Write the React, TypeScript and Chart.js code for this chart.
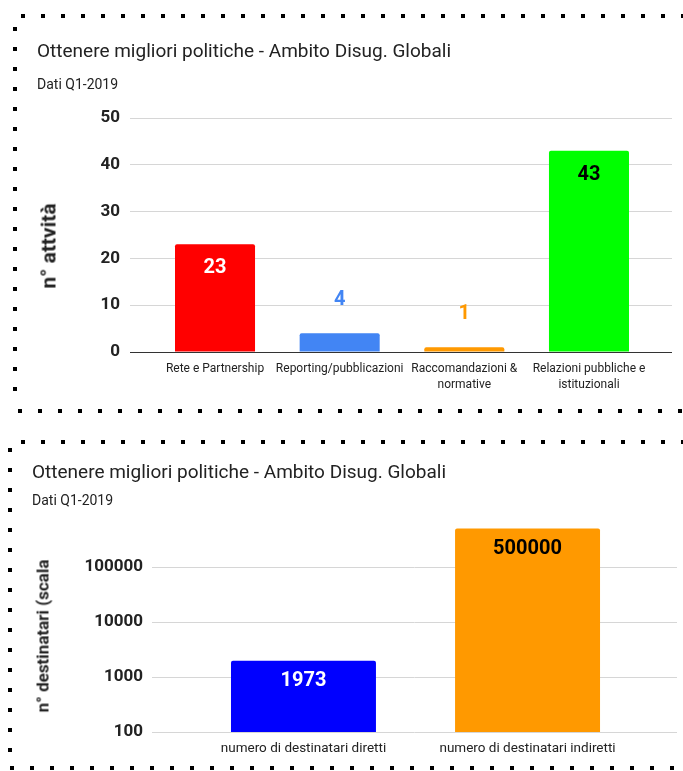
import { useEffect, useRef } from 'react';
import { Chart, registerables } from 'chart.js';

Chart.register(...registerables);

const FONT = 'Roboto, "Noto Sans", sans-serif';
const TEXT = '#222222';

const chartTitle = 'Ottenere migliori politiche - Ambito Disug. Globali';
const periodLabel = 'Dati Q1-2019';

// Activities by type
const activityCategories: string[][] = [
  ['Rete e Partnership'],
  ['Reporting/pubblicazioni'],
  ['Raccomandazioni &', 'normative'],
  ['Relazioni pubbliche e', 'istituzionali'],
];
const activityCounts = [23, 4, 1, 43];
const activityTicks = [0, 10, 20, 30, 40, 50];
const activityAxisTitle = 'n° attvità';

// Beneficiaries reached (logarithmic axis)
const reachCategories: string[][] = [
  ['numero di destinatari diretti'],
  ['numero di destinatari indiretti'],
];
const reachCounts = [1973, 500000];
const reachTicks = [100, 1000, 10000, 100000];
const reachAxisTitle = 'n° destinatari (scala';

type LabelOpts = {
  colors: string[];
  inside: boolean[];
  insideOffset: number;
  outsideOffset: number;
};

// Writes each bar's value inside its top or just above it
const barValueLabels = {
  id: 'barValueLabels',
  afterDatasetsDraw(chart: any, _args: any, opts: LabelOpts) {
    const ctx = chart.ctx;
    const meta = chart.getDatasetMeta(0);
    const data = chart.data.datasets[0].data;
    ctx.save();
    ctx.font = `bold 20px ${FONT}`;
    ctx.textAlign = 'center';
    ctx.textBaseline = 'middle';
    meta.data.forEach((bar: any, i: number) => {
      const { x, y } = bar.getProps(['x', 'y'], true);
      ctx.fillStyle = opts.colors[i];
      const ty = opts.inside[i] ? y + opts.insideOffset : y - opts.outsideOffset;
      ctx.fillText(String(data[i].y), x, ty);
    });
    ctx.restore();
  },
};

function headerPlugins(titleTop: number, subTop: number, subBottom: number) {
  return {
    legend: { display: false },
    tooltip: { enabled: false },
    title: {
      display: true,
      text: chartTitle,
      align: 'start',
      color: TEXT,
      font: { family: FONT, size: 19, weight: 'normal' },
      padding: { top: titleTop, bottom: 0 },
    },
    subtitle: {
      display: true,
      text: periodLabel,
      align: 'start',
      color: TEXT,
      font: { family: FONT, size: 14, weight: 'normal' },
      padding: { top: subTop, bottom: subBottom },
    },
  };
}

function activityConfig(): any {
  return {
    type: 'bar',
    data: {
      datasets: [
        {
          data: activityCounts.map((y, x) => ({ x, y })),
          backgroundColor: ['#ff0000', '#4285f4', '#ff9900', '#00ff00'],
          borderRadius: 2,
          barPercentage: 0.642,
          categoryPercentage: 1,
        },
      ],
    },
    options: {
      responsive: false,
      animation: false,
      events: [],
      layout: { padding: { left: 7, right: 11, top: 0, bottom: 0 } },
      plugins: {
        ...headerPlugins(21, 13, 24.4),
        barValueLabels: {
          colors: ['#ffffff', '#4285f4', '#ff9900', '#000000'],
          inside: [true, false, false, true],
          insideOffset: 24,
          outsideOffset: 33,
        },
      },
      scales: {
        x: {
          type: 'linear',
          min: -0.682,
          max: 3.666,
          bounds: 'data',
          offset: false,
          grid: { display: false, offset: false },
          border: { display: false },
          afterBuildTicks: (axis: any) => {
            axis.ticks = activityCategories.map((_, i) => ({ value: i }));
          },
          afterFit: (axis: any) => {
            axis.height = 48;
          },
          ticks: {
            autoSkip: false,
            maxRotation: 0,
            minRotation: 0,
            padding: 1,
            color: TEXT,
            font: { family: FONT, size: 12, lineHeight: 16 / 12 },
            callback: (v: number) => activityCategories[Math.round(v)] ?? '',
          },
        },
        y: {
          min: 0,
          max: 50,
          afterBuildTicks: (axis: any) => {
            axis.ticks = activityTicks.map((value) => ({ value }));
          },
          afterFit: (axis: any) => {
            axis.width = 93;
          },
          border: { display: false },
          grid: {
            drawTicks: false,
            color: (c: any) => (c.tick && c.tick.value === 0 ? '#333333' : '#d6d6d6'),
          },
          ticks: {
            padding: 10,
            color: TEXT,
            font: { family: FONT, size: 17, weight: 'bold' },
          },
        },
      },
    },
    plugins: [barValueLabels],
  };
}

function reachConfig(): any {
  return {
    type: 'bar',
    data: {
      datasets: [
        {
          data: reachCounts.map((y, x) => ({ x, y })),
          backgroundColor: ['#0000ff', '#ff9900'],
          borderRadius: 2,
          barPercentage: 0.647,
          categoryPercentage: 1,
        },
      ],
    },
    options: {
      responsive: false,
      animation: false,
      events: [],
      layout: { padding: { left: 7, right: 6, top: 0, bottom: 0 } },
      plugins: {
        ...headerPlugins(17, 8, 2.4),
        barValueLabels: {
          colors: ['#ffffff', '#000000'],
          inside: [true, true],
          insideOffset: 20,
          outsideOffset: 0,
        },
      },
      scales: {
        x: {
          type: 'linear',
          min: -0.676,
          max: 1.667,
          bounds: 'data',
          offset: false,
          grid: { display: false, offset: false },
          border: { display: false },
          afterBuildTicks: (axis: any) => {
            axis.ticks = reachCategories.map((_, i) => ({ value: i }));
          },
          afterFit: (axis: any) => {
            axis.height = 30;
          },
          ticks: {
            autoSkip: false,
            maxRotation: 0,
            minRotation: 0,
            padding: 1,
            color: TEXT,
            font: { family: FONT, size: 13.5, lineHeight: 16 / 13.5 },
            callback: (v: number) => reachCategories[Math.round(v)] ?? '',
          },
        },
        y: {
          type: 'logarithmic',
          min: 100,
          max: 1000000,
          afterBuildTicks: (axis: any) => {
            axis.ticks = reachTicks.map((value) => ({ value }));
          },
          afterFit: (axis: any) => {
            axis.width = 120;
          },
          border: { display: false },
          grid: { drawTicks: false, color: '#d6d6d6' },
          ticks: {
            padding: 9,
            color: TEXT,
            font: { family: FONT, size: 17, weight: 'bold' },
            callback: (v: number) => String(v),
          },
        },
      },
    },
    plugins: [barValueLabels],
  };
}

function ChartCanvas(props: { make: () => any; left: number; top: number; width: number; height: number }) {
  const ref = useRef<HTMLCanvasElement>(null);
  useEffect(() => {
    const chart = new Chart(ref.current as HTMLCanvasElement, props.make());
    return () => chart.destroy();
  }, []);
  return (
    <canvas
      ref={ref}
      width={props.width}
      height={props.height}
      style={{ position: 'absolute', left: props.left, top: props.top, width: props.width, height: props.height }}
    />
  );
}

// Vertical axis title, rotated to read bottom-to-top, centred on (cx, cy)
function AxisTitle(props: { text: string; cx: number; cy: number; size: number }) {
  return (
    <div
      style={{
        position: 'absolute',
        left: props.cx,
        top: props.cy,
        transform: 'translate(-50%, -50%) rotate(-90deg)',
        whiteSpace: 'nowrap',
        fontFamily: FONT,
        fontWeight: 'bold',
        fontSize: props.size,
        lineHeight: 1,
        color: TEXT,
      }}
    >
      {props.text}
    </div>
  );
}

// Square-dotted frame segment
function Dots(props: { x: number; y: number; len: number; vertical?: boolean }) {
  const dir = props.vertical ? 'to bottom' : 'to right';
  return (
    <div
      style={{
        position: 'absolute',
        left: props.x,
        top: props.y,
        width: props.vertical ? 4 : props.len,
        height: props.vertical ? props.len : 4,
        background: `repeating-linear-gradient(${dir}, #000 0 4px, transparent 4px 20px)`,
      }}
    />
  );
}

export default function App() {
  return (
    <div
      style={{
        position: 'absolute',
        left: 0,
        top: 0,
        width: 683,
        height: 771,
        overflow: 'hidden',
        background: '#ffffff',
      }}
    >
      <Dots x={21} y={14} len={662} />
      <Dots x={13} y={27} len={380} vertical />
      <Dots x={18} y={409} len={665} />
      <ChartCanvas make={activityConfig} left={30} top={20} width={653} height={380} />
      <AxisTitle text={activityAxisTitle} cx={49} cy={246} size={21} />

      <Dots x={21} y={440} len={662} />
      <Dots x={8} y={448} len={312} vertical />
      <Dots x={10} y={766} len={673} />
      <ChartCanvas make={reachConfig} left={25} top={445} width={658} height={317} />
      <AxisTitle text={reachAxisTitle} cx={43} cy={636} size={17} />
    </div>
  );
}
